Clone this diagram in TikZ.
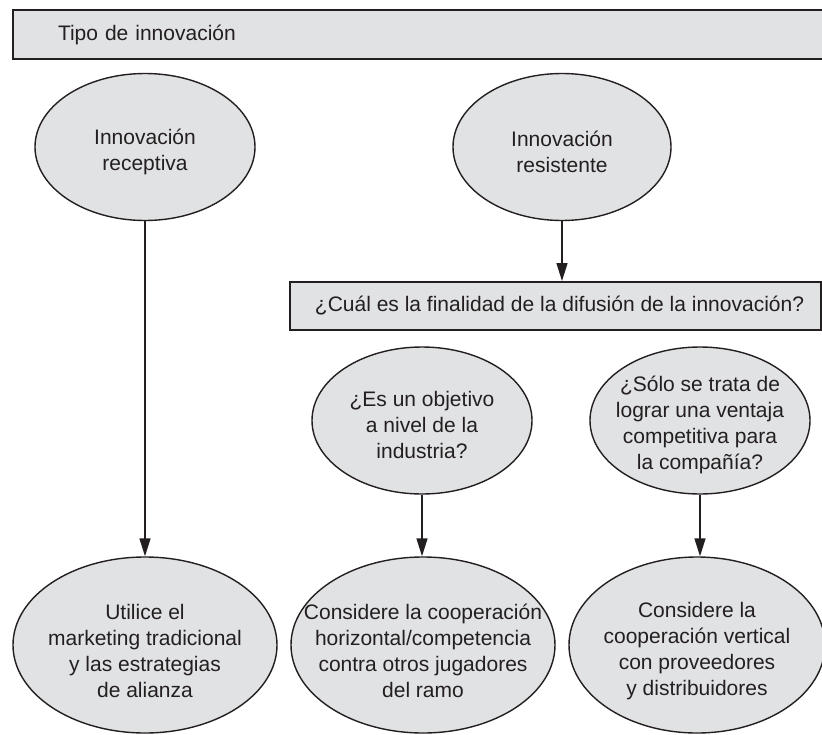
\documentclass[tikz,border=0pt]{standalone}
\usepackage{fontspec}
\setmainfont{Liberation Sans}
\usetikzlibrary{shapes.geometric,arrows.meta}
\definecolor{boxfill}{RGB}{225,226,228}
\definecolor{ink}{RGB}{35,31,32}
\begin{document}
\begin{tikzpicture}[x=1pt,y=-1pt,
  every node/.style={font=\fontsize{21}{26}\selectfont, text=ink},
  oval/.style={ellipse, draw=ink, line width=1.4pt, fill=boxfill, inner sep=0pt},
  ovaltext/.style={align=center, inner sep=0pt},
  bar/.style={rectangle, draw=ink, line width=2pt, fill=boxfill, inner sep=0pt},
  arr/.style={draw=ink, line width=1.5pt, -{Triangle[length=18pt,width=11pt]}}]
\useasboundingbox (0,0) rectangle (822,734);

% top bar (right side runs off the page)
\node[bar, anchor=north west, minimum width=816pt, minimum height=49pt,
      inner xsep=45pt, text width=726pt, align=left] (tipo) at (12,9) {Tipo de innovación};

% first level
\node[oval, minimum width=220pt, minimum height=147pt] (rec) at (145,147) {};
\node[ovaltext] (rect) at (145,152) {Innovación\\receptiva};
\node[oval, minimum width=218pt, minimum height=147pt] (res) at (562,147) {};
\node[ovaltext] (rest) at (562,152) {Innovación\\resistente};

% question bar
\node[bar, anchor=north west, minimum width=531pt, minimum height=48pt] (fin) at (289,281)
  {\hspace*{8pt}¿Cuál es la finalidad de la difusión de la innovación?};

% second level questions
\node[oval, minimum width=220pt, minimum height=147pt] (sl) at (422,420.5) {};
\node[ovaltext] (slt) at (422,425) {¿Es un objetivo\\a nivel de la\\industria?};
\node[oval, minimum width=220pt, minimum height=147pt] (sr) at (700,420.5) {};
\node[ovaltext] (srt) at (700,425) {¿Sólo se trata de\\lograr una ventaja\\competitiva para\\la compañía?};

% bottom level
\node[oval, minimum width=264pt, minimum height=176pt] (b1) at (145,645) {};
\node[ovaltext] (b1t) at (145,651) {Utilice el\\marketing tradicional\\y las estrategias\\de alianza};
\node[oval, minimum width=264pt, minimum height=176pt] (b2) at (423,645) {};
\node[ovaltext] (b2t) at (423,651) {Considere la cooperación\\horizontal/competencia\\contra otros jugadores\\del ramo};
\node[oval, minimum width=256pt, minimum height=176pt] (b3) at (697,645) {};
\node[ovaltext] (b3t) at (697,651) {Considere la\\cooperación vertical\\con proveedores\\y distribuidores};

% connectors
\draw[arr] (rec.south) -- (b1.north);
\draw[arr] (res.south) -- (res.south |- fin.north);
\draw[arr] (sl.south) -- (sl.south |- b2.north);
\draw[arr] (sr.south) -- (sr.south |- b3.north);
\end{tikzpicture}
\end{document}
